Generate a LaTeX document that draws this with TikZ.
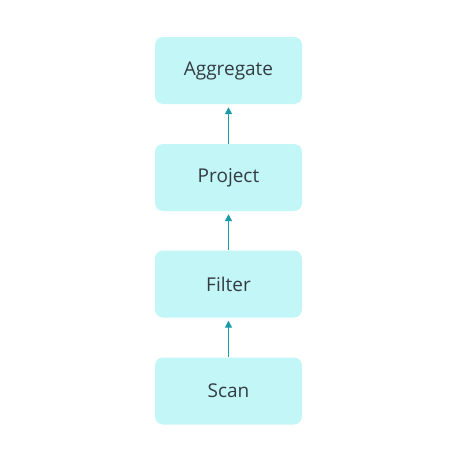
\documentclass[tikz,border=0pt]{standalone}
\usepackage{fontspec}
\setmainfont{Open Sans}
\usepackage{tikz}
\usetikzlibrary{arrows.meta,positioning}
\definecolor{opfill}{RGB}{194,246,247}
\definecolor{optext}{RGB}{51,60,66}
\definecolor{flowteal}{RGB}{26,155,168}

\begin{document}
\begin{tikzpicture}[x=1pt,y=-1pt,
    opbox/.style={fill=opfill, rounded corners=8pt, minimum width=147pt,
                  minimum height=67pt, inner sep=0pt, text=optext,
                  font=\fontsize{19}{23}\selectfont},
    flow/.style={-{Triangle[length=7pt,width=7pt]}, line width=1.4pt,
                 flowteal, shorten >=3pt}
]
\useasboundingbox (0,0) rectangle (456,455);
\node[opbox] (agg) at (228.5,70.5) {Aggregate};
\node[opbox] (proj) at (228.5,177.5) {Project};
\node[opbox] (filt) at (228.5,284) {Filter};
\node[opbox] (scan) at (228.5,391) {Scan};

\draw[flow] (proj) -- (agg);
\draw[flow] (filt) -- (proj);
\draw[flow] (scan) -- (filt);
\end{tikzpicture}
\end{document}
